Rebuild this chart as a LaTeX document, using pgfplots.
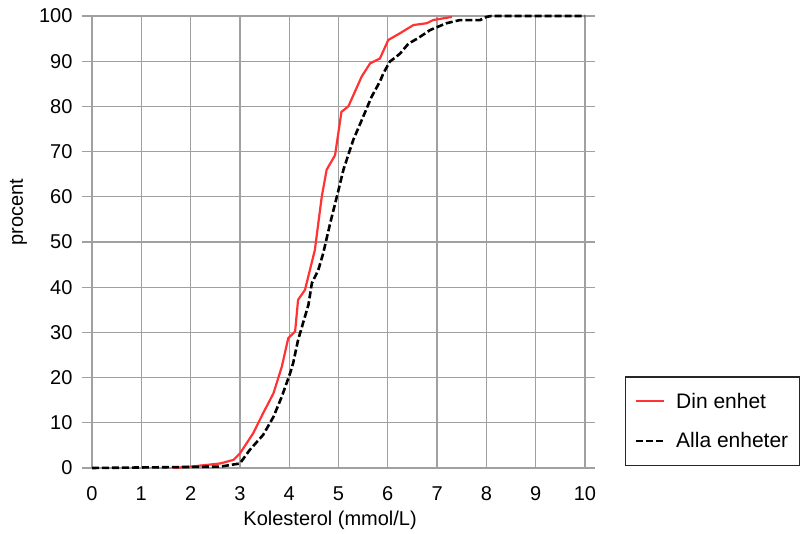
\documentclass[border=0pt]{standalone}
\usepackage{pgfplots}
\pgfplotsset{compat=1.18}
\usepackage{fontspec}
\setmainfont{Liberation Sans}
\definecolor{gridgray}{RGB}{160,160,160}
\definecolor{dinred}{RGB}{255,51,51}
\begin{document}
\begin{tikzpicture}
\begin{axis}[
  name=ax,
  scale only axis,
  width=493pt, height=452pt,
  xmin=0, xmax=10, ymin=0, ymax=100,
  xtick={0,1,...,10}, ytick={0,10,...,100},
  grid=major,
  major grid style={gridgray, line width=1.3pt},
  axis line style={gridgray, line width=1.3pt},
  every tick/.style={draw=gridgray, line width=1.3pt},
  xtick align=inside, ytick align=outside, major tick length=10pt,
  tick label style={font=\fontsize{20}{23}\selectfont},
  /pgf/number format/assume math mode=true,
  xticklabel style={anchor=center, yshift=-26pt},
  yticklabel style={anchor=east, xshift=-6pt},
  xlabel={Kolesterol (mmol/L)},
  ylabel={procent},
  label style={font=\fontsize{20}{23}\selectfont},
  xlabel style={at={(axis description cs:0.483,0)}, anchor=center, yshift=-52pt},
  ylabel style={at={(axis description cs:-0.149,0.566)}, anchor=center},
  clip=false,
  legend cell align=left,
  legend image code/.code={\draw[#1] (0pt,0pt) -- (28pt,0pt);},
  legend style={at={(1,0)}, anchor=south west, xshift=40pt, yshift=2pt,
    draw=black!85, line width=1.2pt, inner xsep=9pt, inner ysep=14pt,
    row sep=19pt, column sep=9pt, font=\fontsize{21}{24}\selectfont},
]
\addplot[dinred, line width=2.2pt] coordinates {
(1.65,0) (2.0,0.3) (2.6,1.0) (2.87,1.8) (3.0,3.2) (3.27,7.7) (3.47,12.1)
(3.68,16.5) (3.85,22.4) (3.98,28.7) (4.12,30.2) (4.18,37.2) (4.32,39.4)
(4.52,48.2) (4.66,60) (4.76,66) (4.93,69.2) (5.06,78.8) (5.2,80)
(5.47,86.6) (5.64,89.5) (5.84,90.6) (6.01,94.7) (6.25,96.2) (6.52,98)
(6.79,98.4) (6.92,99.1) (7.3,99.8)
};
\addlegendentry{Din enhet}
\addplot[black, line width=2.6pt, dash pattern=on 7pt off 3pt] coordinates {
(0,0) (2.6,0.3) (3.0,1.0) (3.2,4.0) (3.47,7.3) (3.68,11.3) (3.85,15.8)
(4.02,21) (4.08,23.2) (4.18,28.3) (4.29,32.4) (4.39,36.1) (4.46,40.9)
(4.59,43.8) (4.69,47.5) (4.83,54.1) (5.0,61.5) (5.1,66) (5.3,72.6)
(5.5,77.7) (5.67,82.1) (5.84,85.5) (5.91,87.3) (6.04,89.9) (6.15,90.8)
(6.25,91.7) (6.42,93.9) (6.6,95) (6.86,96.9) (7.19,98.4) (7.46,99.1)
(7.87,99.1) (8.0,99.8) (8.1,100) (10,100)
};
\addlegendentry{Alla enheter}
\end{axis}
\pgfresetboundingbox
\path ([xshift=-92pt,yshift=-66pt]ax.south west) rectangle ([xshift=219pt,yshift=16pt]ax.north east);
\end{tikzpicture}
\end{document}
